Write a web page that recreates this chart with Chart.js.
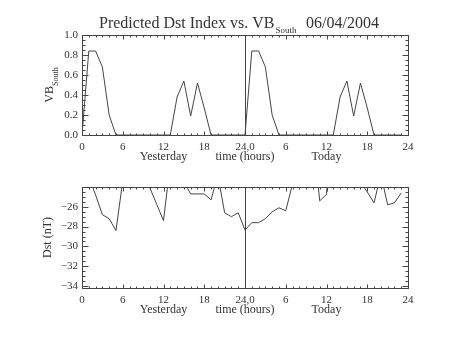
<!DOCTYPE html>
<html><head><meta charset="utf-8">
<script src="https://cdn.jsdelivr.net/npm/chart.js@4.4.1/dist/chart.umd.min.js"></script>
<style>
html,body{margin:0;padding:0;background:#fff;width:453px;height:340px;overflow:hidden}
.w{position:absolute;left:0;width:453px;height:170px}
</style>
</head><body>
<div class="w" style="top:0"><canvas id="c1" width="453" height="170"></canvas></div>
<div class="w" style="top:170px"><canvas id="c2" width="453" height="170"></canvas></div>
<script>
// ---- data ----
const hours = [0,1,2,3,4,5,6,7,8,9,10,11,12,13,14,15,16,17,18,19,20,21,22,23,
               24,25,26,27,28,29,30,31,32,33,34,35,36,37,38,39,40,41,42,43,44,45,46,47];
const vbSouth = [0,0.84,0.84,0.68,0.20,0,0,0,0,0,0,0,0,0,0.38,0.54,0.19,0.52,0.27,0,0,0,0,0,
                 0,0.84,0.84,0.68,0.20,0,0,0,0,0,0,0,0,0,0.38,0.54,0.19,0.52,0.27,0,0,0,0,0];
const dst = [-22.5,-23.0,-24.8,-26.8,-27.2,-28.4,-23.4,-22.5,-22.0,-22.8,-24.1,-25.75,
             -27.4,-21.6,-22.5,-23.45,-24.7,-24.7,-24.7,-25.3,-22.8,-26.6,-27.0,-26.6,
             -28.35,-27.6,-27.6,-27.2,-26.5,-26.1,-26.4,-23.7,-22.5,-22.0,-18.5,-25.4,
             -24.75,-15.0,-22.5,-23.3,-24.1,-23.5,-24.5,-25.6,-22.7,-25.8,-25.6,-24.6];
const xTickValues = [0,6,12,18,24,30,36,42,48];
const xTickLabels = ['0','6','12','18','24,0','6','12','18','24'];
const xSubLabels = [[12,'Yesterday'],[24,'time (hours)'],[36,'Today']];
const vbTicks = [0,0.2,0.4,0.6,0.8,1.0];
const dstTicks = [-34,-32,-30,-28,-26];
const titleMain = 'Predicted Dst Index vs. VB';
const titleSub = 'South';
const titleDate = '06/04/2004';

const FONT = "'Liberation Serif', 'Times New Roman', serif";
const INK = '#333';
const LINE = '#444';

function panelPlugin(opts){
  return {
    id:'panel'+opts.id,
    afterDraw(chart){
      const ctx = chart.ctx, a = chart.chartArea;
      const xs = chart.scales.x, ys = chart.scales.y;
      const L = Math.round(a.left)+0.5, R = Math.round(a.right)+0.5;
      const T = Math.round(a.top)+0.5, B = Math.round(a.bottom)+0.5;
      ctx.save();
      ctx.strokeStyle = LINE; ctx.lineWidth = 1;
      ctx.strokeRect(L, T, R-L, B-T);
      ctx.beginPath();
      for (let h=0; h<=48; h++){
        const px = Math.round(xs.getPixelForValue(h))+0.5;
        const len = (h%6===0) ? 4 : 2;
        ctx.moveTo(px,B); ctx.lineTo(px,B-len);
        ctx.moveTo(px,T); ctx.lineTo(px,T+len);
      }
      for (let v=opts.yMin0; v<=opts.yMax0+1e-9; v+=opts.yMinorStep){
        const py = Math.round(ys.getPixelForValue(v))+0.5;
        const k = Math.round((v-opts.yMin0)/opts.yMinorStep);
        const len = (k%4===0) ? 6 : 3;
        ctx.moveTo(L,py); ctx.lineTo(L+len,py);
        ctx.moveTo(R,py); ctx.lineTo(R-len,py);
      }
      const p24 = Math.round(xs.getPixelForValue(24))+0.5;
      ctx.moveTo(p24,T); ctx.lineTo(p24,B);
      ctx.stroke();
      ctx.fillStyle = INK;
      ctx.font = '12px '+FONT;
      ctx.textAlign = 'center'; ctx.textBaseline = 'middle';
      xSubLabels.forEach(([v,t])=>{
        ctx.fillText(t, xs.getPixelForValue(v), a.bottom+22);
      });
      ctx.save();
      ctx.translate(opts.yTitleX, (a.top+a.bottom)/2);
      ctx.rotate(-Math.PI/2);
      ctx.textBaseline = 'middle';
      if (opts.yTitleSub){
        ctx.font = '12px '+FONT;
        const w1 = ctx.measureText(opts.yTitle).width;
        ctx.font = '8px '+FONT;
        const w2 = ctx.measureText(opts.yTitleSub).width;
        const x0 = -(w1+w2)/2;
        ctx.textAlign='left';
        ctx.font = '12px '+FONT;
        ctx.fillText(opts.yTitle, x0, 0);
        ctx.font = '8px '+FONT;
        ctx.fillText(opts.yTitleSub, x0+w1, 6);
      } else {
        ctx.font = '12px '+FONT;
        ctx.textAlign='center';
        ctx.fillText(opts.yTitle, 0, 0);
      }
      ctx.restore();
      if (opts.title){
        ctx.textAlign='left'; ctx.textBaseline='alphabetic';
        ctx.font = '16px '+FONT;
        ctx.fillText(titleMain, 99, 28);
        const w = ctx.measureText(titleMain).width;
        ctx.font = '9px '+FONT;
        ctx.fillText(titleSub, 99+w+1, 33);
        ctx.font = '16px '+FONT;
        ctx.fillText(titleDate, 306, 28);
      }
      ctx.restore();
    }
  };
}

function makeChart(id, values, o){
  const pts = hours.map((h,i)=>({x:h, y:values[i]}));
  return new Chart(document.getElementById(id), {
    type:'line',
    data:{datasets:[{data:pts, borderColor:LINE, borderWidth:1, pointRadius:0,
                     tension:0, fill:false, clip:0}]},
    options:{
      responsive:false, animation:false,
      layout:{padding:{top:o.top, right:45, left:0, bottom:0}},
      plugins:{legend:{display:false}, tooltip:{enabled:false}, title:{display:false}},
      scales:{
        x:{type:'linear', min:0, max:48,
           afterBuildTicks(s){ s.ticks = xTickValues.map(v=>({value:v})); },
           afterFit(s){ s.height = o.xHeight; },
           grid:{display:false, drawTicks:false}, border:{display:false},
           ticks:{autoSkip:false, maxRotation:0, padding:6, color:INK,
                  font:{family:FONT, size:11},
                  callback:(v,i)=>xTickLabels[i]}},
        y:{type:'linear', min:o.yMin, max:o.yMax,
           afterBuildTicks(s){ s.ticks = o.yTicks.map(v=>({value:v})); },
           afterFit(s){ s.width = 82; },
           grid:{display:false, drawTicks:false}, border:{display:false},
           ticks:{padding:4, color:INK, font:{family:FONT, size:11},
                  callback:o.yFmt}}
      }
    },
    plugins:[panelPlugin(o)]
  });
}

makeChart('c1', vbSouth, {id:1, top:35, xHeight:35, yMin:0, yMax:1.0, yTicks:vbTicks,
  yFmt:v=>v.toFixed(1), yMin0:0, yMax0:1.0, yMinorStep:0.05,
  yTitle:'VB', yTitleSub:'South', yTitleX:50, title:true});
makeChart('c2', dst, {id:2, top:17, xHeight:52, yMin:-34.2, yMax:-24, yTicks:dstTicks,
  yFmt:v=>String(v).replace('-','\u2212'), yMin0:-34, yMax0:-24, yMinorStep:0.5,
  yTitle:'Dst (nT)', yTitleX:48, title:false});
</script>
</body></html>
